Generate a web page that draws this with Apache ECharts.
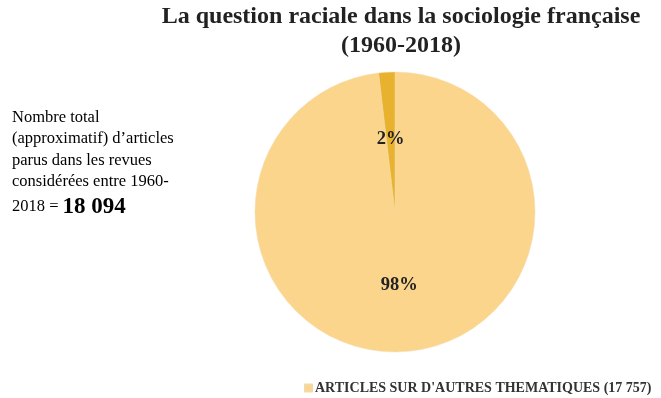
<!DOCTYPE html>
<html>
<head>
<meta charset="utf-8">
<style>
  html, body { margin: 0; padding: 0; background: #fff; }
  #chart { width: 661px; height: 398px; }
</style>
<script src="https://cdn.jsdelivr.net/npm/echarts@6/dist/echarts.min.js"></script>
</head>
<body>
<div id="chart"></div>
<script>
// données
var categories = ["ARTICLES SUR D'AUTRES THEMATIQUES (17 757)", "ARTICLES SUR LA QUESTION RACIALE (337)"];
var values = [17757, 337];
var sliceColors = ['#fcd58c', '#e8b22e'];
var totalLabel = '18 094';

var serif = '"Liberation Serif", "DejaVu Serif", serif';

var myChart = echarts.init(document.getElementById('chart'));

myChart.setOption({
  animation: false,
  title: {
    text: 'La question raciale dans la sociologie française\n(1960-2018)',
    left: 396,
    top: -3,
    textAlign: 'center',
    textStyle: {
      fontFamily: serif,
      fontSize: 24,
      fontWeight: 'bold',
      color: '#222',
      lineHeight: 29
    }
  },
  legend: {
    data: [categories[0]],
    left: 299,
    top: 376,
    icon: 'rect',
    itemWidth: 7,
    itemHeight: 7,
    itemGap: 6,
    selectedMode: false,
    textStyle: {
      fontFamily: serif,
      fontSize: 14,
      fontWeight: 'bold',
      color: '#333',
      padding: [0, 0, 0, -2]
    }
  },
  graphic: [{
    type: 'text',
    left: 12,
    top: 109,
    style: {
      text: '{a|Nombre total}\n{a|(approximatif) d’articles}\n{a|parus dans les revues}\n{a|considérées entre 1960-}\n{a|2018 = }{b|' + totalLabel + '}',
      rich: {
        a: { fontFamily: serif, fontSize: 16.5, color: '#333', lineHeight: 21.5 },
        b: { fontFamily: serif, fontSize: 23, fontWeight: 'bold', color: '#111', lineHeight: 28 }
      }
    }
  }],
  series: [{
    type: 'pie',
    center: [395, 212],
    radius: [0, 140],
    startAngle: 90,
    clockwise: true,
    silent: true,
    label: {
      show: true,
      position: 'inside',
      formatter: function (p) { return Math.round(p.percent) + '%'; },
      fontFamily: serif,
      fontSize: 18.5,
      fontWeight: 'bold',
      color: '#222'
    },
    labelLine: { show: false },
    itemStyle: { borderColor: '#f3d9a8', borderWidth: 0.5 },
    data: categories.map(function (c, i) {
      return { name: c, value: values[i], itemStyle: { color: sliceColors[i] } };
    })
  }]
});
</script>
</body>
</html>
